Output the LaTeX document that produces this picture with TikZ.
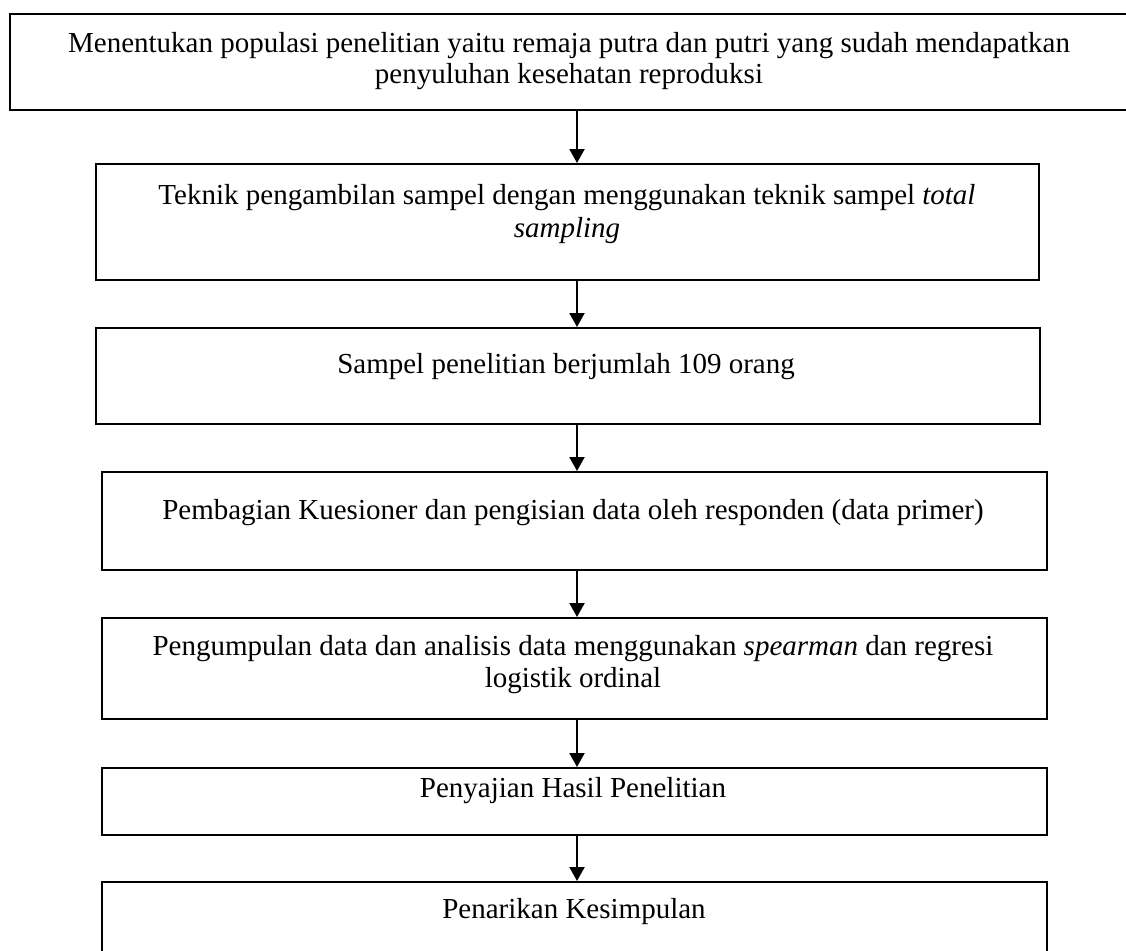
\documentclass[tikz,border=0pt]{standalone}
\usepackage{fontspec}
\setmainfont{Liberation Serif}
\usetikzlibrary{arrows.meta}
\begin{document}
\begin{tikzpicture}[x=1pt,y=-1pt,
  box/.style={draw=black,line width=2pt,rectangle,inner sep=0pt,anchor=north west},
  lbl/.style={inner sep=0pt,anchor=base,align=center,font=\fontsize{29}{32}\selectfont},
  arr/.style={line width=2pt,-{Triangle[length=14pt,width=15pt]}}]
\clip (0,0) rectangle (1126,950);
\fill[white] (0,0) rectangle (1126,950);
\node[box,minimum width=1131pt,minimum height=96pt] (b1) at (9,13) {};
\node[box,minimum width=943pt,minimum height=116pt] (b2) at (95,163) {};
\node[box,minimum width=944pt,minimum height=96pt] (b3) at (95,327) {};
\node[box,minimum width=945pt,minimum height=98pt] (b4) at (101,471) {};
\node[box,minimum width=945pt,minimum height=101pt] (b5) at (101,617) {};
\node[box,minimum width=945pt,minimum height=67pt] (b6) at (101,767) {};
\node[box,minimum width=945pt,minimum height=120pt] (b7) at (101,881) {};
\node[lbl,font=\fontsize{29}{31}\selectfont] (t1) at (569,83) {Menentukan populasi penelitian yaitu remaja putra dan putri yang sudah mendapatkan\\penyuluhan kesehatan reproduksi};
\node[lbl,font=\fontsize{29}{33}\selectfont] (t2) at (567,237) {Teknik pengambilan sampel dengan menggunakan teknik sampel \textit{total}\\\textit{sampling}};
\node[lbl] (t3) at (566,373) {Sampel penelitian berjumlah 109 orang};
\node[lbl] (t4) at (573,519) {Pembagian Kuesioner dan pengisian data oleh responden (data primer)};
\node[lbl] (t5) at (573,687) {Pengumpulan data dan analisis data menggunakan \textit{spearman} dan regresi\\logistik ordinal};
\node[lbl] (t6) at (573,797) {Penyajian Hasil Penelitian};
\node[lbl] (t7) at (574,918) {Penarikan Kesimpulan};
\coordinate (ax) at (577,0);
\draw[arr] (b1.south -| ax) -- (b2.north -| ax);
\draw[arr] (b2.south -| ax) -- (b3.north -| ax);
\draw[arr] (b3.south -| ax) -- (b4.north -| ax);
\draw[arr] (b4.south -| ax) -- (b5.north -| ax);
\draw[arr] (b5.south -| ax) -- (b6.north -| ax);
\draw[arr] (b6.south -| ax) -- (b7.north -| ax);
\end{tikzpicture}
\end{document}
